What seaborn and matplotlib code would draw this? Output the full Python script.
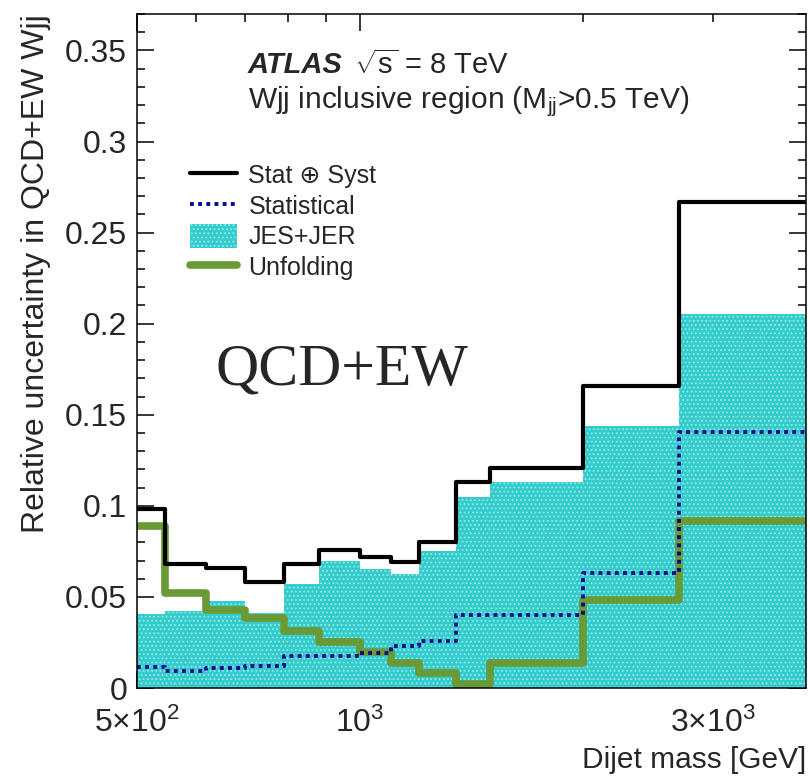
import numpy as np
import pandas as pd
import matplotlib
matplotlib.use("Agg")
import matplotlib.pyplot as plt
import seaborn as sns
from matplotlib.lines import Line2D
from matplotlib.patches import Patch
from matplotlib.ticker import NullFormatter

# ---------------- data ----------------
bin_edges = [500, 545, 620, 700, 790, 880, 1000, 1100, 1200, 1350, 1500, 2000, 2700, 4000]
stat_syst = [0.098, 0.068, 0.066, 0.058, 0.068, 0.076, 0.072, 0.069, 0.080, 0.113, 0.121, 0.166, 0.267]
statistical = [0.0114, 0.0094, 0.0112, 0.0122, 0.0176, 0.0176, 0.0192, 0.0233, 0.026, 0.040, 0.040, 0.0634, 0.1405]
jes_jer = [0.0405, 0.0425, 0.048, 0.041, 0.057, 0.0697, 0.0656, 0.0627, 0.0754, 0.105, 0.113, 0.1437, 0.2055]
unfolding = [0.0887, 0.052, 0.0429, 0.0383, 0.0315, 0.0255, 0.020, 0.0136, 0.0081, 0.0022, 0.0136, 0.0484, 0.0916]
legend_labels = ["Stat \u2295 Syst", "Statistical", "JES+JER", "Unfolding"]
x_tick_vals = [500, 1000, 3000]
x_tick_labels = [r"$5{\times}10^{2}$", r"$10^{3}$", r"$3{\times}10^{3}$"]
y_tick_vals = [0, 0.05, 0.1, 0.15, 0.2, 0.25, 0.3, 0.35]
y_tick_labels = ["0", "0.05", "0.1", "0.15", "0.2", "0.25", "0.3", "0.35"]

edges = [float(e) for e in bin_edges]
centers = list(np.sqrt(np.array(edges[:-1]) * np.array(edges[1:])))
df = pd.DataFrame({"mjj": centers, "stat_syst": stat_syst, "statistical": statistical,
                   "jes_jer": jes_jer, "unfolding": unfolding})

# ---------------- style ----------------
sns.set_style("ticks")
plt.rcParams["font.family"] = ["Liberation Sans", "DejaVu Sans"]
plt.rcParams["mathtext.fontset"] = "custom"
plt.rcParams["mathtext.rm"] = "Liberation Sans"
plt.rcParams["mathtext.it"] = "Liberation Sans:italic"
plt.rcParams["mathtext.bf"] = "Liberation Sans:bold"
plt.rcParams["hatch.linewidth"] = 0.8

CYAN = "#33cccc"
CYAN_H = "#9be6e6"
GREEN = "#6a9a35"
NAVY = "#0b0b8f"

fig = plt.figure(figsize=(8.1, 7.79), dpi=100)
ax = fig.add_axes([0.169, 0.1168, 0.826, 0.8652])

# JES+JER filled
sns.histplot(data=df, x="mjj", weights="jes_jer", bins=edges, element="step", fill=True,
             color=CYAN, alpha=1, linewidth=0, ax=ax)
fillcol = ax.collections[-1]
fillcol.set_facecolor(CYAN)
fillcol.set_edgecolor(CYAN_H)
fillcol.set_hatch("....")
fillcol.set_linewidth(0)

# Unfolding
sns.histplot(data=df, x="mjj", weights="unfolding", bins=edges, element="step", fill=False,
             color=GREEN, linewidth=5.5, ax=ax)
# Statistical
sns.histplot(data=df, x="mjj", weights="statistical", bins=edges, element="step", fill=False,
             color=NAVY, linewidth=2.8, linestyle=(0, (1, 1.1)), ax=ax)
# Stat + Syst
sns.histplot(data=df, x="mjj", weights="stat_syst", bins=edges, element="step", fill=False,
             color="black", linewidth=3.0, ax=ax)

ax.set_xscale("log")
ax.set_xlim(500, 4000)
ax.set_ylim(0, 0.37)

# ticks
ax.set_xticks(x_tick_vals, labels=x_tick_labels)
ax.set_xticks([600, 700, 800, 900, 2000], minor=True)
ax.xaxis.set_minor_formatter(NullFormatter())
ax.set_yticks(y_tick_vals, labels=y_tick_labels)
ax.set_yticks(np.arange(0, 0.371, 0.01), minor=True)
ax.tick_params(which="both", direction="in", top=True, right=True, width=1.1, color="black")
ax.tick_params(which="major", length=12)
ax.tick_params(which="minor", length=6)
ax.tick_params(axis="y", which="major", labelsize=23, pad=7)
ax.tick_params(axis="x", which="major", labelsize=23, pad=14)
for t in ax.xaxis.get_major_ticks()[2:]:
    t.tick1line.set_markersize(6)
    t.tick2line.set_markersize(6)
for s in ax.spines.values():
    s.set_linewidth(1.1)
    s.set_color("black")

ax.set_xlabel("Dijet mass [GeV]", fontsize=21.5, loc="right", labelpad=5)
ax.set_ylabel("Relative uncertainty in QCD+EW Wjj", fontsize=23, loc="top", labelpad=10)

# texts
ax.text(0.166, 0.924, "ATLAS", transform=ax.transAxes, fontsize=21, fontweight="bold",
        fontstyle="italic", va="center", ha="left")
ax.text(0.325, 0.924, r"$\sqrt{\mathrm{s}}$ = 8 TeV", transform=ax.transAxes, fontsize=21,
        va="center", ha="left")
ax.text(0.166, 0.870, r"Wjj inclusive region (M$_{\mathrm{jj}}$>0.5 TeV)", transform=ax.transAxes,
        fontsize=21.5, va="center", ha="left")
ax.text(0.117, 0.4496, "QCD+EW", transform=ax.transAxes, fontsize=43,
        family=["Liberation Serif", "DejaVu Serif"], va="baseline", ha="left")

# legend
handles = [
    Line2D([0], [0], color="black", linewidth=3.0),
    Line2D([0], [0], color=NAVY, linewidth=2.8, linestyle=(0, (1, 1.1))),
    Patch(facecolor=CYAN, edgecolor=CYAN_H, hatch="....", linewidth=0),
    Line2D([0], [0], color=GREEN, linewidth=5.5),
]
ax.legend(handles, legend_labels, loc="upper left", bbox_to_anchor=(0.079, 0.779),
          frameon=False, fontsize=18, handlelength=1.9, handleheight=1.1,
          handletextpad=0.45, labelspacing=0.2, borderpad=0, borderaxespad=0)

fig.savefig("out.png", dpi=100)
